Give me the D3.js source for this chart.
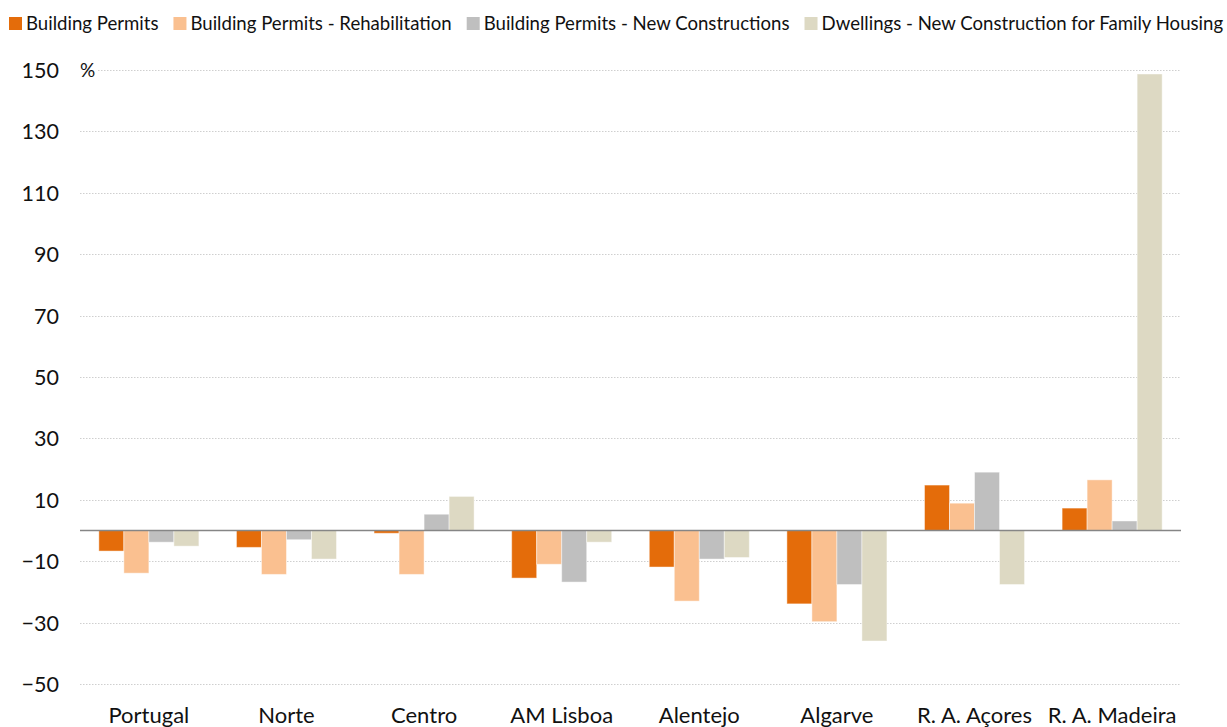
<!DOCTYPE html>
<html>
<head>
<meta charset="utf-8">
<script src="https://cdn.jsdelivr.net/npm/d3@7"></script>
<style>
  html, body { margin: 0; padding: 0; background: #fff; }
  svg { display: block; font-family: Lato, "Open Sans", sans-serif; }
</style>
</head>
<body>
<svg id="chart" width="1227" height="727"></svg>
<script>
const categories = ["Portugal", "Norte", "Centro", "AM Lisboa", "Alentejo", "Algarve", "R. A. Açores", "R. A. Madeira"];
const seriesNames = ["Building Permits", "Building Permits - Rehabilitation", "Building Permits - New Constructions", "Dwellings - New Construction for Family Housing"];
const buildingPermits = [-6.7, -5.5, -0.9, -15.5, -11.9, -23.9, 14.8, 7.3];
const rehabilitation = [-13.9, -14.3, -14.3, -11.0, -23.0, -29.7, 8.9, 16.5];
const newConstructions = [-3.8, -3.0, 5.3, -16.8, -9.3, -17.6, 19.0, 3.1];
const dwellingsFamily = [-5.1, -9.3, 11.1, -3.8, -8.8, -36.0, -17.6, 148.7];
const yTicks = [-50, -30, -10, 10, 30, 50, 70, 90, 110, 130, 150];
const colors = ["#E46C0A", "#FAC090", "#BFBFBF", "#DDD9C3"];

const seriesValues = [buildingPermits, rehabilitation, newConstructions, dwellingsFamily];

const svg = d3.select("#chart");
const plotLeft = 80, plotRight = 1181, plotTop = 70, plotBottom = 684;

const x = d3.scaleBand().domain(categories).range([plotLeft, plotRight]).paddingInner(0.273).paddingOuter(0.137);
const xs = d3.scaleBand().domain(d3.range(seriesNames.length)).range([0, x.bandwidth()]).padding(0);
const y = d3.scaleLinear().domain([-50, 150]).range([plotBottom, plotTop]);

// gridlines
const grid = svg.append("g");
grid.selectAll("line").data(yTicks).join("line")
  .attr("x1", plotLeft).attr("x2", plotRight)
  .attr("y1", d => Math.round(y(d)) + 0.5).attr("y2", d => Math.round(y(d)) + 0.5)
  .attr("stroke", "#cfcfcf").attr("stroke-width", 1).attr("stroke-dasharray", "1.5,1.5");

// y axis labels
const yAxis = d3.axisLeft(y).tickValues(yTicks).tickSize(0).tickPadding(0).tickFormat(d3.format("d"));
const ya = svg.append("g").attr("transform", `translate(59,0)`).call(yAxis);
ya.select(".domain").remove();
ya.selectAll("text").attr("font-family", "Lato, 'Open Sans', sans-serif").attr("font-size", 21.5).attr("fill", "#111").attr("dy", "0.35em");

// % label with white background
const pct = svg.append("g");
pct.append("rect").attr("x", 78).attr("y", y(150) - 10).attr("width", 20).attr("height", 20).attr("fill", "#fff");
pct.append("text").attr("x", 80).attr("y", y(150)).attr("dy", "0.35em")
  .attr("font-size", 19).attr("fill", "#111").text("%");

// bars
const groups = svg.append("g").selectAll("g").data(categories).join("g")
  .attr("transform", d => `translate(${x(d)},0)`);
groups.selectAll("rect").data((c, ci) => seriesValues.map((vals, si) => ({ si, v: vals[ci] }))).join("rect")
  .attr("x", d => xs(d.si))
  .attr("width", xs.bandwidth())
  .attr("y", d => y(Math.max(0, d.v)))
  .attr("height", d => Math.abs(y(d.v) - y(0)))
  .attr("fill", d => colors[d.si])
  .attr("stroke", "rgba(255,255,255,0.45)").attr("stroke-width", 1);

// zero line
svg.append("line").attr("x1", plotLeft).attr("x2", plotRight).attr("y1", y(0)).attr("y2", y(0))
  .attr("stroke", "#868686").attr("stroke-width", 1.5);

// x axis labels
const xAxis = d3.axisBottom(x).tickSize(0).tickPadding(0);
const xa = svg.append("g").attr("transform", `translate(0,723)`).call(xAxis);
xa.select(".domain").remove();
xa.selectAll("text").attr("font-family", "Lato, 'Open Sans', sans-serif").attr("font-size", 22).attr("fill", "#111").attr("dy", 0);

// legend
const legend = svg.append("g").attr("transform", "translate(9,0)");
let lx = 0;
seriesNames.forEach((name, i) => {
  const g = legend.append("g").attr("transform", `translate(${lx},0)`);
  g.append("rect").attr("x", 0).attr("y", 17).attr("width", 13).attr("height", 13).attr("fill", colors[i]);
  const t = g.append("text").attr("x", 17).attr("y", 30).attr("font-size", 18.6).attr("fill", "#111").text(name);
  const w = t.node().getComputedTextLength();
  lx += 17 + w + 15;
});
</script>
</body>
</html>
